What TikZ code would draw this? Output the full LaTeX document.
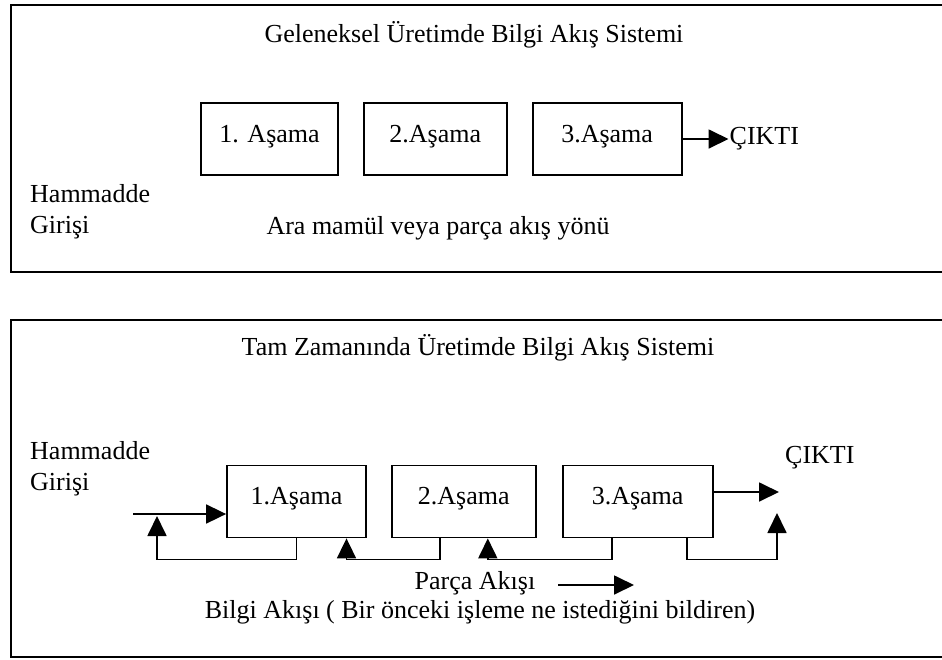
\documentclass[tikz,border=0pt]{standalone}
\usepackage{fontspec}
\setmainfont{Liberation Serif}
\usetikzlibrary{positioning,calc,arrows.meta}

\begin{document}
\begin{tikzpicture}[
	x=1pt, y=-1pt,
	metin/.style={inner sep=1pt, font=\fontsize{26}{31}\selectfont},
	asama/.style={metin, rectangle, draw, line width=1.8pt, minimum height=72pt, text height=17pt, text depth=11pt},
	ok/.style={line width=1.8pt, -{Triangle[length=20pt,width=19pt]}},
	cerceve/.style={line width=1.8pt},
	node distance=24pt
	]
	\useasboundingbox (0,0) rectangle (942,659);
	
	\draw[cerceve] (950,5) -| (11,272) -- (950,272);
	\node[metin] (baslik1) at (474,35) {Geleneksel Üretimde Bilgi Akış Sistemi};
	\node[asama, minimum width=137pt] (g1) at (269.5,139) {1. Aşama};
	\node[asama, minimum width=143pt, right=of g1] (g2) {2.Aşama};
	\node[asama, minimum width=149pt, right=of g2] (g3) {3.Aşama};
	\node[metin, right=46pt of g3] (cikti1) {ÇIKTI};
	\draw[ok] (g3) -- (cikti1);
	\node[metin, align=left, anchor=west] (ham1) at (29,212) {Hammadde\\Girişi};
	\node[metin] (ara) at (438,228) {Ara mamül veya parça akış yönü};
	
	\draw[cerceve] (950,320) -| (11,657) -- (950,657);
	\node[metin] (baslik2) at (478,348) {Tam Zamanında Üretimde Bilgi Akış Sistemi};
	\node[metin, align=left, anchor=west] (ham2) at (29,469) {Hammadde\\Girişi};
	\node[asama, minimum width=139pt] (t1) at (296.5,501.5) {1.Aşama};
	\node[asama, minimum width=144pt, right=of t1] (t2) {2.Aşama};
	\node[asama, minimum width=150pt, right=25pt of t2] (t3) {3.Aşama};
	\node[metin, anchor=west] (cikti2) at (784,458) {ÇIKTI};
	\coordinate (giris) at (133,514);
	\coordinate (cikis) at (779,492);
	\draw[ok] (giris) -- (giris -| t1.west);
	\draw[ok] (cikis -| t3.east) -- (cikis);
	\draw[ok] (t1.south) -- ++(0,21) -| ($(giris)+(24,2)$);
	\draw[ok] ([xshift=-24pt]t2.south) -- ++(0,21) -| ([xshift=50pt]t1.south);
	\draw[ok] ([xshift=-26pt]t3.south) -- ++(0,21) -| ([xshift=24pt]t2.south);
	\draw[ok] ([xshift=49pt]t3.south) -- ++(0,21) -| ($(cikis)+(-2,21)$);
	\node[metin] (parca) at (475,583) {Parça Akışı};
	\coordinate (p1) at (558,585);
	\coordinate (p2) at (634,585);
	\draw[ok] (p1) -- (p2);
	\node[metin] (bilgi) at (480,612) {Bilgi Akışı ( Bir önceki işleme ne istediğini bildiren)};
\end{tikzpicture}
\end{document}
